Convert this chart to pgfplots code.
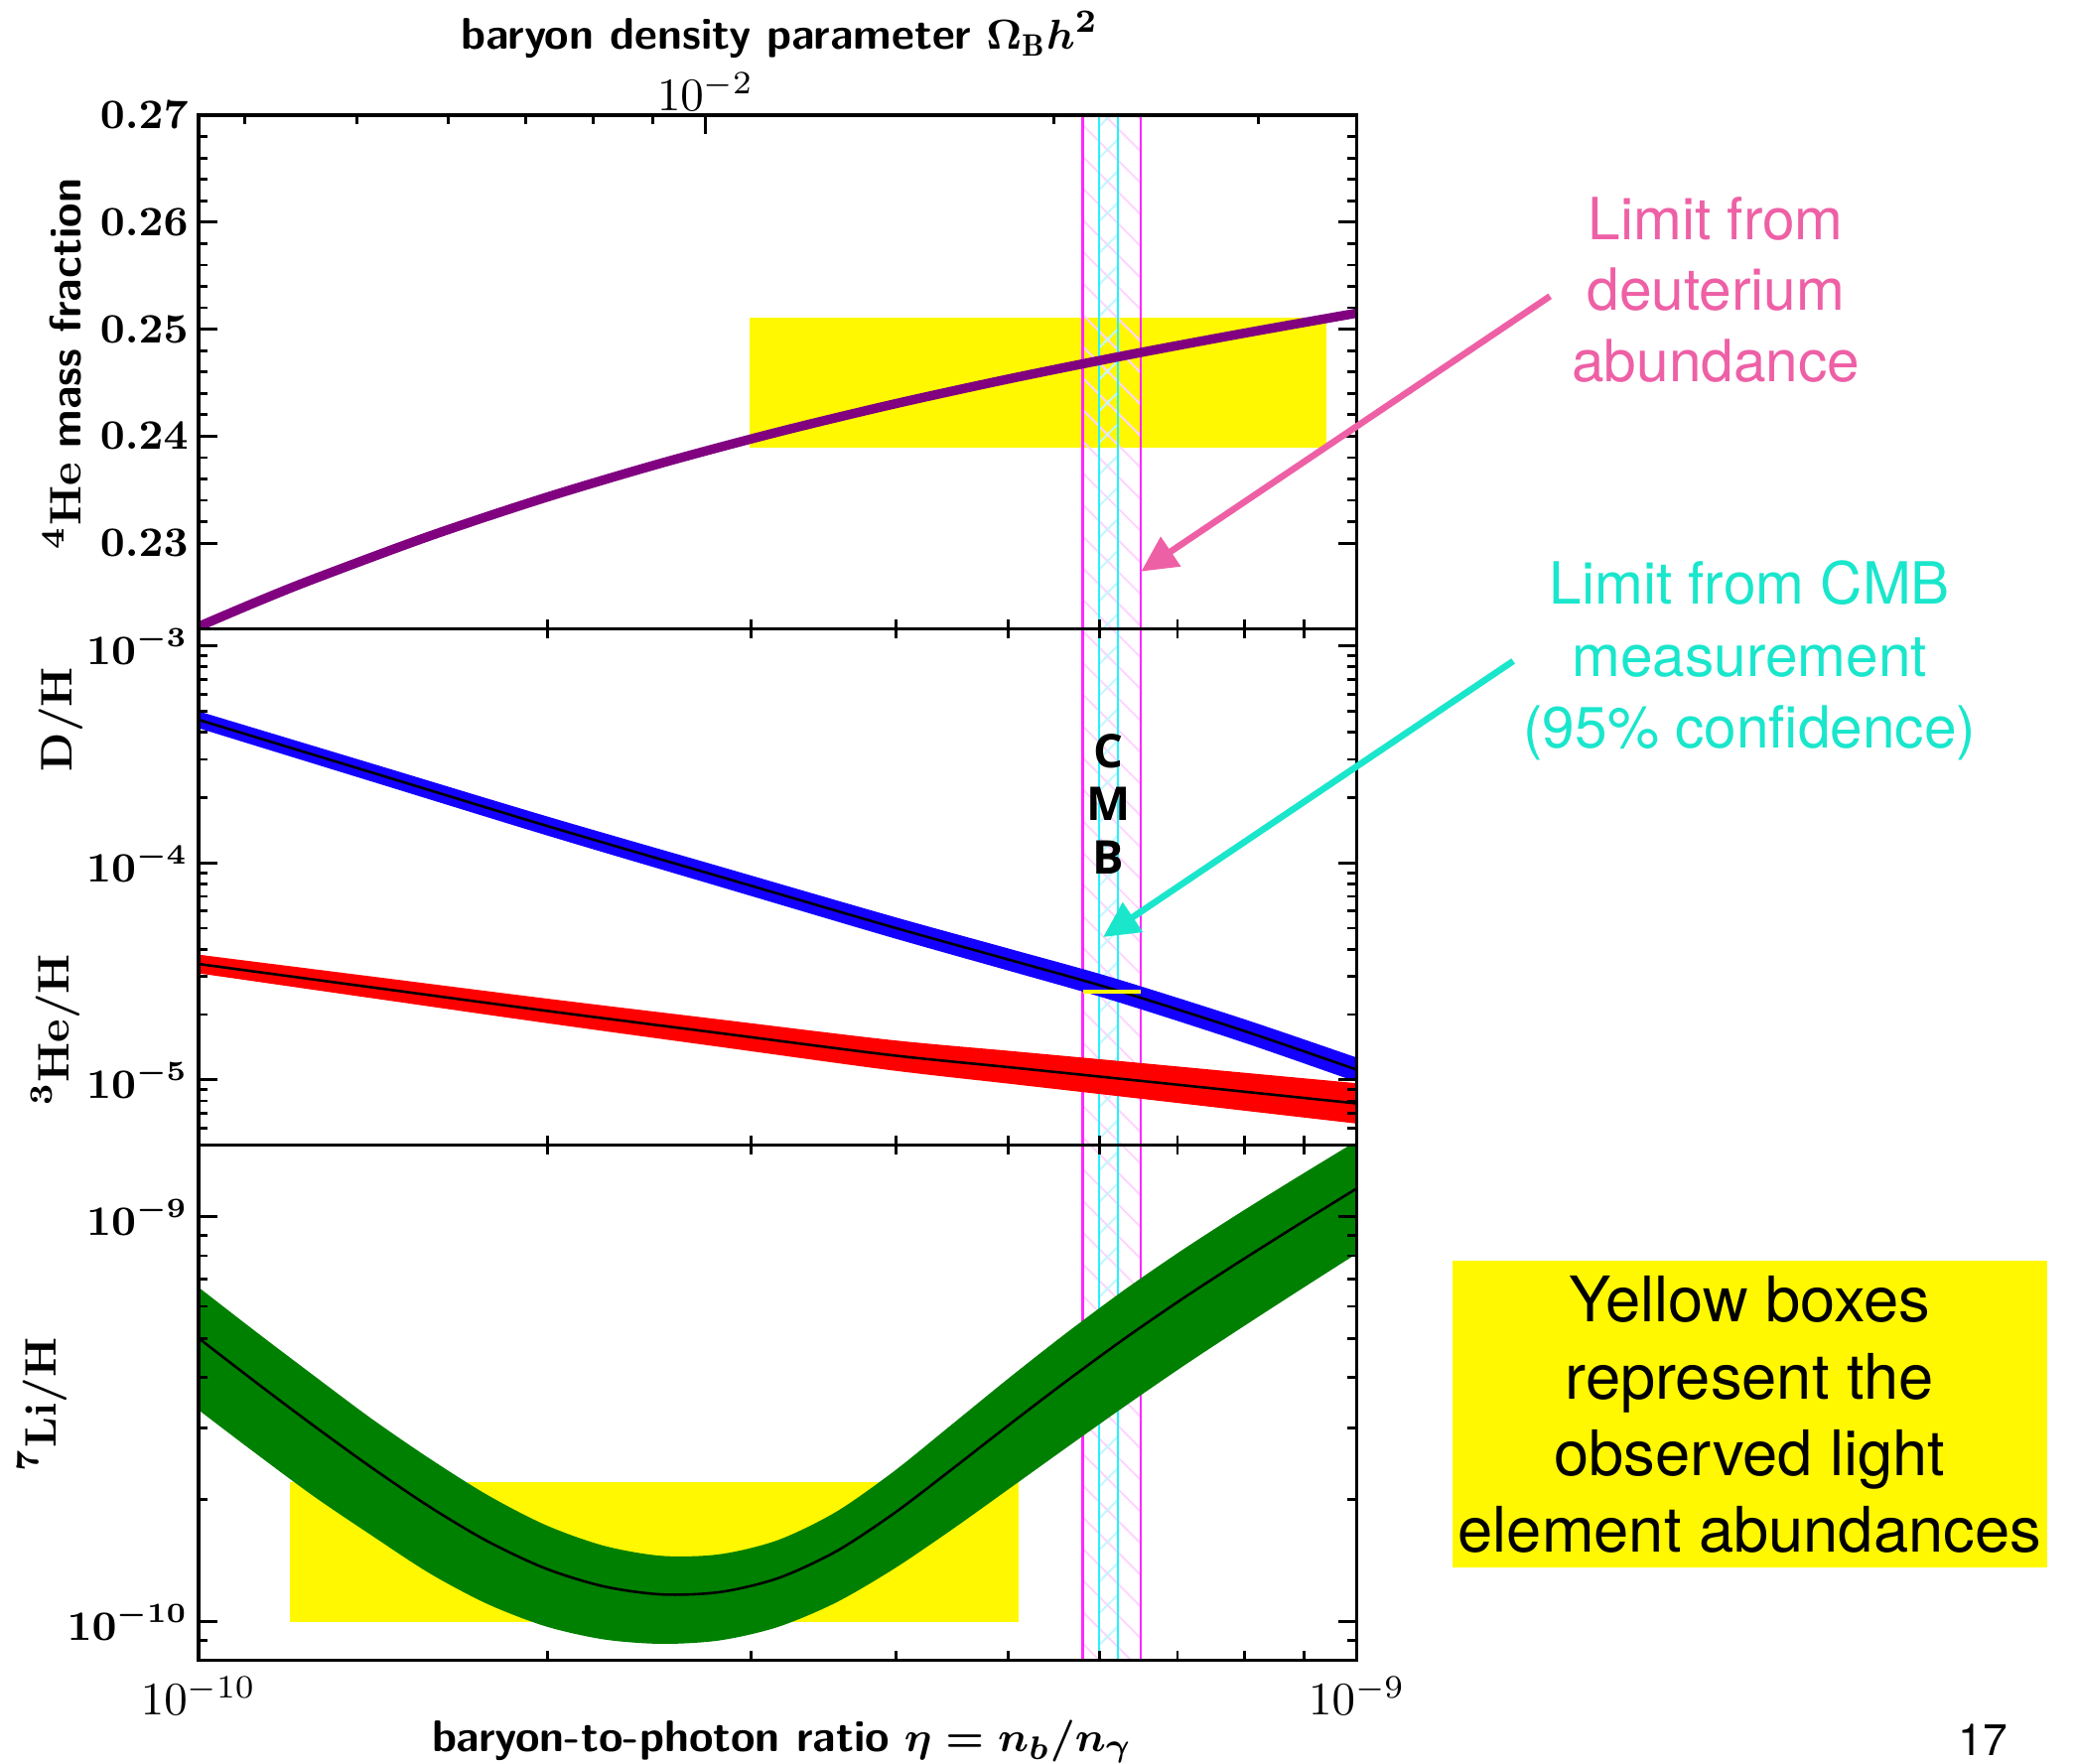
\documentclass[border=0pt]{standalone}
\usepackage{pgfplots}
\usepackage{pgfplotstable}
\pgfplotsset{compat=1.18}
\usetikzlibrary{patterns,arrows.meta}
\usepackage{fontspec}
\newfontfamily\helv{TeX Gyre Heros}
\newfontfamily\osans{Open Sans}

\definecolor{hepurple}{RGB}{128,0,128}
\definecolor{dblue}{RGB}{20,0,255}
\definecolor{hred}{RGB}{255,0,0}
\definecolor{lgreen}{RGB}{0,128,0}
\definecolor{obsyellow}{RGB}{255,248,0}
\definecolor{magL}{RGB}{255,40,255}
\definecolor{cyanL}{RGB}{40,240,255}
\definecolor{magH}{RGB}{255,212,255}
\definecolor{cyanH}{RGB}{195,247,255}
\definecolor{pinkT}{RGB}{238,96,166}
\definecolor{turqT}{RGB}{26,230,204}

\pgfdeclarepatternformonly{nwhatch}{\pgfqpoint{-1pt}{-1pt}}{\pgfqpoint{7.8pt}{7.8pt}}{\pgfqpoint{6.8pt}{6.8pt}}{%
  \pgfsetlinewidth{0.4pt}%
  \pgfpathmoveto{\pgfqpoint{-0.5pt}{7.3pt}}%
  \pgfpathlineto{\pgfqpoint{7.3pt}{-0.5pt}}%
  \pgfusepath{stroke}}
\pgfdeclarepatternformonly{nehatch}{\pgfqpoint{-1pt}{-1pt}}{\pgfqpoint{7.8pt}{7.8pt}}{\pgfqpoint{6.8pt}{6.8pt}}{%
  \pgfsetlinewidth{0.4pt}%
  \pgfpathmoveto{\pgfqpoint{-0.5pt}{-0.5pt}}%
  \pgfpathlineto{\pgfqpoint{7.3pt}{7.3pt}}%
  \pgfusepath{stroke}}

% 4He mass fraction
\pgfplotstableread{
eta Y
1.0000e-10 0.22220
1.1220e-10 0.22450
1.2589e-10 0.22667
1.5849e-10 0.23068
1.9953e-10 0.23427
2.5119e-10 0.23749
3.1623e-10 0.24038
3.9811e-10 0.24299
5.0119e-10 0.24536
6.3096e-10 0.24754
7.9433e-10 0.24957
1.0000e-09 0.25150
}\hefour

% D/H centre
\pgfplotstableread{
eta c
1.0000e-10 4.571e-4
1.4125e-10 2.606e-4
2.0030e-10 1.476e-4
2.8180e-10 8.650e-5
3.9420e-10 5.117e-5
5.0119e-10 3.573e-5
6.1380e-10 2.630e-5
7.9430e-10 1.698e-5
1.0000e-09 1.112e-5
}\dhtab
% D/H band outline: upper edge, then lower edge back
\pgfplotstableread{
eta y
9.333e-11 5.594e-4
1.0000e-10 5.000e-4
1.4125e-10 2.868e-4
2.0030e-10 1.633e-4
2.8180e-10 9.632e-5
3.9420e-10 5.729e-5
5.0119e-10 4.017e-5
6.1380e-10 2.968e-5
7.9430e-10 1.924e-5
1.0000e-09 1.265e-5
1.0715e-09 1.114e-5
1.0715e-09 8.605e-6
1.0000e-09 9.772e-6
7.9430e-10 1.499e-5
6.1380e-10 2.331e-5
5.0119e-10 3.178e-5
3.9420e-10 4.570e-5
2.8180e-10 7.768e-5
2.0030e-10 1.334e-4
1.4125e-10 2.368e-4
1.0000e-10 4.178e-4
9.333e-11 4.675e-4
}\dhband

% 3He/H centre
\pgfplotstableread{
eta c
1.0000e-10 3.420e-5
1.4125e-10 2.667e-5
2.0030e-10 2.075e-5
2.8180e-10 1.641e-5
3.9420e-10 1.303e-5
5.0119e-10 1.142e-5
6.1380e-10 1.021e-5
7.9430e-10 8.844e-6
1.0000e-09 7.780e-6
}\hethree
\pgfplotstableread{
eta y
9.333e-11 3.969e-5
1.0000e-10 3.776e-5
1.4125e-10 2.992e-5
2.0030e-10 2.364e-5
2.8180e-10 1.898e-5
3.9420e-10 1.530e-5
5.0119e-10 1.359e-5
6.1380e-10 1.230e-5
7.9430e-10 1.081e-5
1.0000e-09 9.638e-6
1.0715e-09 9.275e-6
1.0715e-09 6.044e-6
1.0000e-09 6.281e-6
7.9430e-10 7.234e-6
6.1380e-10 8.476e-6
5.0119e-10 9.587e-6
3.9420e-10 1.110e-5
2.8180e-10 1.418e-5
2.0030e-10 1.821e-5
1.4125e-10 2.377e-5
1.0000e-10 3.097e-5
9.333e-11 3.255e-5
}\heband

% 7Li/H centre
\pgfplotstableread{
eta c
1.0000e-10 5.012e-10
1.1220e-10 3.890e-10
1.2589e-10 3.038e-10
1.4125e-10 2.395e-10
1.5849e-10 1.9176e-10
1.7783e-10 1.5767e-10
1.9953e-10 1.3521e-10
2.2387e-10 1.2218e-10
2.5119e-10 1.1675e-10
2.8184e-10 1.1830e-10
3.1623e-10 1.2794e-10
3.5481e-10 1.4885e-10
3.9811e-10 1.8469e-10
4.4668e-10 2.3727e-10
5.0119e-10 3.0655e-10
5.6234e-10 3.9378e-10
6.3096e-10 5.009e-10
7.0795e-10 6.281e-10
7.9433e-10 7.780e-10
8.9125e-10 9.572e-10
1.0000e-09 1.1735e-9
}\lithium
% 7Li/H band outline: upper edge, then lower edge back
\pgfplotstableread{
eta y
8.9125e-11 8.659e-10
1.0000e-10 6.691e-10
1.1220e-10 5.185e-10
1.2589e-10 4.041e-10
1.4125e-10 3.161e-10
1.5849e-10 2.522e-10
1.7783e-10 2.050e-10
1.9953e-10 1.731e-10
2.2387e-10 1.5395e-10
2.5119e-10 1.4535e-10
2.8184e-10 1.4669e-10
3.1623e-10 1.5890e-10
3.5481e-10 1.8636e-10
3.9811e-10 2.3456e-10
4.4668e-10 3.0608e-10
5.0119e-10 4.0005e-10
5.6234e-10 5.1782e-10
6.3096e-10 6.612e-10
7.0795e-10 8.291e-10
7.9433e-10 1.0254e-9
8.9125e-10 1.2578e-9
1.0000e-09 1.5373e-9
1.1220e-09 1.8805e-9
1.1220e-09 9.905e-10
1.0000e-09 8.097e-10
8.9125e-10 6.566e-10
7.9433e-10 5.306e-10
7.0795e-10 4.271e-10
6.3096e-10 3.406e-10
5.6234e-10 2.6974e-10
5.0119e-10 2.1305e-10
4.4668e-10 1.6846e-10
3.9811e-10 1.3482e-10
3.5481e-10 1.1134e-10
3.1623e-10 9.698e-11
2.8184e-10 8.991e-11
2.5119e-10 8.815e-11
2.2387e-10 9.041e-11
1.9953e-10 9.735e-11
1.7783e-10 1.104e-10
1.5849e-10 1.314e-10
1.4125e-10 1.629e-10
1.2589e-10 2.035e-10
1.1220e-10 2.595e-10
1.0000e-10 3.333e-10
8.9125e-11 4.313e-10
}\liband

\pgfplotsset{every axis/.append style={
    axis line style={black, line width=0.7pt},
    tick style={black, line width=0.6pt},
    major tick length=0.14cm, minor tick length=0.07cm,
    tick align=inside}}

\newcommand\cmbband[2]{%
  \addplot[draw=none, pattern=nwhatch, pattern color=magH]
    coordinates {(5.80e-10,#1) (6.51e-10,#1) (6.51e-10,#2) (5.80e-10,#2)};
  \addplot[draw=none, pattern=nehatch, pattern color=cyanH]
    coordinates {(5.99e-10,#1) (6.22e-10,#1) (6.22e-10,#2) (5.99e-10,#2)};
  \addplot[magL, line width=0.55pt] coordinates {(5.80e-10,#1) (5.80e-10,#2)};
  \addplot[magL, line width=0.55pt] coordinates {(6.51e-10,#1) (6.51e-10,#2)};
  \addplot[cyanL, line width=0.55pt] coordinates {(5.99e-10,#1) (5.99e-10,#2)};
  \addplot[cyanL, line width=0.55pt] coordinates {(6.22e-10,#1) (6.22e-10,#2)};
}

\begin{document}
\begin{tikzpicture}
\path[use as bounding box] (0,0) rectangle (15.68,13.32);

% ---------- top panel: 4He ----------
\begin{axis}[scale only axis, width=8.75cm, height=3.88cm, at={(1.5cm,8.57cm)}, anchor=south west,
  xmode=log, xmin=1e-10, xmax=1e-9, xtick={1e-10,1e-9},
  minor xtick={2e-10,3e-10,4e-10,5e-10,6e-10,7e-10,8e-10,9e-10},
  xtick pos=left, xticklabels={,,},
  axis on top,
  ymin=0.222, ymax=0.27,
  ytick={0.23,0.24,0.25,0.26,0.27}, minor y tick num=4,
  yticklabel style={font=\fontsize{9}{11}\selectfont\boldmath, inner xsep=2pt, /pgf/number format/fixed, /pgf/number format/fixed zerofill, /pgf/number format/precision=2}]
  \addplot[draw=none, fill=obsyellow] coordinates {(2.99e-10,0.2389) (9.41e-10,0.2389) (9.41e-10,0.2511) (2.99e-10,0.2511)};
  \cmbband{0.21}{0.28}
  \addplot[hepurple, line width=2.0pt, smooth] table[x=eta,y=Y] {\hefour};
\end{axis}

% top axis: Omega_B h^2
\begin{axis}[scale only axis, width=8.75cm, height=3.88cm, at={(1.5cm,8.57cm)}, anchor=south west,
  xmode=log, xmin=3.651e-3, xmax=3.651e-2, ymin=0, ymax=1,
  axis line style={draw=none}, ytick=\empty,
  xtick={0.01}, minor xtick={0.004,0.005,0.006,0.007,0.008,0.009,0.02,0.03},
  xtick pos=right, xticklabel pos=right,
  xticklabel style={font=\fontsize{10}{12}\selectfont, yshift=-2.5pt}]
  \addplot[draw=none] coordinates {(0.01,0.5)};
\end{axis}

% ---------- middle panel: D/H and 3He/H ----------
\begin{axis}[scale only axis, width=8.75cm, height=3.90cm, at={(1.5cm,4.67cm)}, anchor=south west,
  xmode=log, xmin=1e-10, xmax=1e-9, xtick={1e-10,1e-9},
  minor xtick={2e-10,3e-10,4e-10,5e-10,6e-10,7e-10,8e-10,9e-10},
  xticklabels={,,},
  axis on top,
  ymode=log, ymin=5.0e-6, ymax=1.2e-3,
  ytick={1e-5,1e-4,1e-3},
  minor ytick={6e-6,7e-6,8e-6,9e-6,2e-5,3e-5,4e-5,5e-5,6e-5,7e-5,8e-5,9e-5,2e-4,3e-4,4e-4,5e-4,6e-4,7e-4,8e-4,9e-4},
  yticklabel style={font=\fontsize{9}{11}\selectfont\boldmath, inner xsep=2pt}]
  \cmbband{4e-6}{1.5e-3}
  \addplot[fill=dblue, draw=none, smooth] table[x=eta,y=y] {\dhband};
  \addplot[fill=hred, draw=none, smooth] table[x=eta,y=y] {\heband};
  \addplot[black, line width=0.55pt, smooth] table[x=eta,y=c] {\dhtab};
  \addplot[black, line width=0.55pt, smooth] table[x=eta,y=c] {\hethree};
  \addplot[obsyellow, line width=1.0pt] coordinates {(5.80e-10,2.55e-5) (6.51e-10,2.55e-5)};
\end{axis}

% ---------- bottom panel: 7Li/H ----------
\begin{axis}[scale only axis, width=8.75cm, height=3.89cm, at={(1.5cm,0.78cm)}, anchor=south west,
  xmode=log, xmin=1e-10, xmax=1e-9, xtick={1e-10,1e-9},
  minor xtick={2e-10,3e-10,4e-10,5e-10,6e-10,7e-10,8e-10,9e-10},
  xticklabel style={font=\fontsize{10}{12}\selectfont},
  axis on top,
  ymode=log, ymin=8.04e-11, ymax=1.5e-9,
  ytick={1e-10,1e-9},
  minor ytick={9e-11,2e-10,3e-10,4e-10,5e-10,6e-10,7e-10,8e-10,9e-10},
  yticklabel style={font=\fontsize{9}{11}\selectfont\boldmath, inner xsep=2pt}]
  \addplot[draw=none, fill=obsyellow] coordinates {(1.20e-10,1.0e-10) (5.11e-10,1.0e-10) (5.11e-10,2.21e-10) (1.20e-10,2.21e-10)};
  \cmbband{7e-11}{2e-9}
  \addplot[fill=lgreen, draw=none, smooth] table[x=eta,y=y] {\liband};
  \addplot[black, line width=0.55pt, smooth] table[x=eta,y=c] {\lithium};
\end{axis}

% ---------- axis titles ----------
\node[anchor=base, font=\fontsize{9.5}{11}\selectfont] at (5.89,12.945)
  {\textsf{\textbf{baryon density parameter}} {\boldmath$\Omega_{\mathrm{B}}h^{2}$}};
\node[anchor=base, font=\fontsize{9.5}{11}\selectfont] at (5.907,0.086)
  {\textsf{\textbf{baryon-to-photon ratio}} {\boldmath$\eta = n_b/n_\gamma$}};

\node[rotate=90, font=\fontsize{9.5}{11}\selectfont] at (0.47,10.57)
  {{\boldmath$^{4}$}\textbf{He} \textsf{\textbf{mass fraction}}};
\node[rotate=90, font=\fontsize{9.5}{11}\selectfont] at (0.46,7.885) {\textbf{D/H}};
\node[rotate=90, font=\fontsize{9.5}{11}\selectfont] at (0.42,5.54) {{\boldmath$^{3}$}\textbf{He/H}};
\node[rotate=90, font=\fontsize{9.5}{11}\selectfont] at (0.32,2.71) {{\boldmath$^{7}$}\textbf{Li/H}};

% ---------- CMB letters ----------
\node[anchor=base, font=\osans\bfseries\fontsize{10}{12}\selectfont] at (8.374,7.522) {C};
\node[anchor=base, font=\osans\bfseries\fontsize{10}{12}\selectfont] at (8.374,7.120) {M};
\node[anchor=base, font=\osans\bfseries\fontsize{10}{12}\selectfont] at (8.374,6.718) {B};

% ---------- annotations ----------
\begin{scope}[every node/.style={anchor=base, font=\helv\fontsize{12.5}{15}\selectfont}]
\node[text=pinkT] at (12.96,11.512) {Limit from};
\node[text=pinkT] at (12.96,10.980) {deuterium};
\node[text=pinkT] at (12.96,10.436) {abundance};
\node[text=turqT] at (13.215,8.755) {Limit from CMB};
\node[text=turqT] at (13.215,8.213) {measurement};
\node[text=turqT] at (13.215,7.673) {(95\% confidence)};
\end{scope}

\draw[pinkT, line width=1.4pt, -{Triangle[length=0.27cm,width=0.26cm]}] (11.707,11.082) -- (8.619,9.003);
\draw[turqT, line width=1.4pt, -{Triangle[length=0.27cm,width=0.26cm]}] (11.429,8.326) -- (8.332,6.241);

\fill[obsyellow] (10.97,1.48) rectangle (15.46,3.795);
\begin{scope}[every node/.style={anchor=base, font=\helv\fontsize{13.5}{16}\selectfont}]
\node at (13.215,3.335) {Yellow boxes};
\node at (13.215,2.752) {represent the};
\node at (13.215,2.173) {observed light};
\node at (13.215,1.594) {element abundances};
\end{scope}

\node[anchor=base, font=\helv\fontsize{9.5}{11}\selectfont] at (14.98,0.06) {17};
\end{tikzpicture}
\end{document}
